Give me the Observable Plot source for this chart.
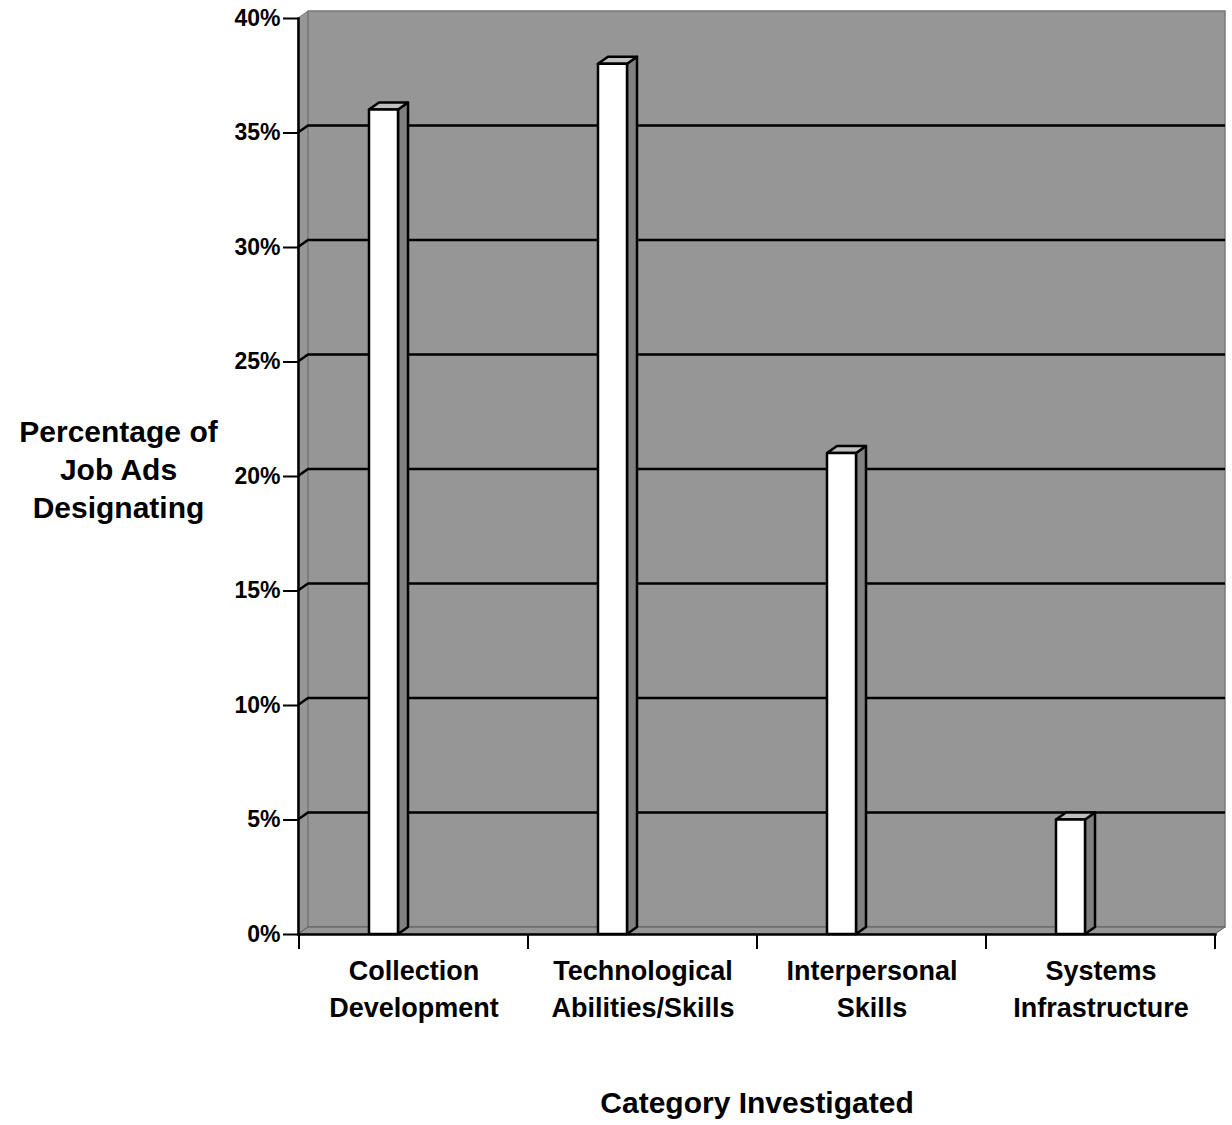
<!DOCTYPE html>
<html>
<head>
<meta charset="utf-8">
<script src="https://cdn.jsdelivr.net/npm/d3@7"></script>
<script src="https://cdn.jsdelivr.net/npm/@observablehq/plot@0.6"></script>
<style>
  html, body { margin: 0; padding: 0; background: #fff; }
  #chart svg { display: block; }
  #chart svg text { font-weight: bold; }
</style>
</head>
<body>
<div id="chart"></div>
<script>
const categories = ["Collection Development", "Technological Abilities/Skills", "Interpersonal Skills", "Systems Infrastructure"];
const categoryLabels = ["Collection\nDevelopment", "Technological\nAbilities/Skills", "Interpersonal\nSkills", "Systems\nInfrastructure"];
const values = [0.36, 0.38, 0.21, 0.05];
const yTicks = [0, 0.05, 0.10, 0.15, 0.20, 0.25, 0.30, 0.35, 0.40];
const yTitle = "Percentage of\nJob Ads\nDesignating";
const xTitle = "Category Investigated";

const data = categories.map((c, i) => ({category: c, value: values[i], label: categoryLabels[i]}));

const DX = 10, DY = -7, BAR_OFF = 70, BAR_W = 29;
const WALL = "#969696", EDGE = "#7a7a7a", SIDE = "#808080", TOP = "#c0c0c0";

function walls(index, scales, values, dims) {
  const {x, y} = scales;
  const g = d3.create("svg:g");
  const L = dims.marginLeft, R = dims.width - dims.marginRight;
  const y0 = y(0), y1 = y(0.4);
  g.append("path").attr("d", `M${L},${y0}L${L},${y1}L${L+DX},${y1+DY}L${L+DX},${y0+DY}Z`)
    .attr("fill", WALL).attr("stroke", EDGE).attr("stroke-width", 1);
  g.append("rect").attr("x", L + DX).attr("y", y1 + DY).attr("width", R - L).attr("height", y0 - y1)
    .attr("fill", WALL).attr("stroke", EDGE).attr("stroke-width", 1.5);
  g.append("path").attr("d", `M${L},${y0}L${L+DX},${y0+DY}L${R+DX},${y0+DY}L${R},${y0}Z`)
    .attr("fill", WALL).attr("stroke", "#5a5a5a").attr("stroke-width", 1);
  for (const t of yTicks) {
    if (t === 0 || t === 0.4) continue;
    const yy = y(t);
    g.append("path").attr("d", `M${L},${yy}L${L+DX},${yy+DY}L${R+DX},${yy+DY}`)
      .attr("fill", "none").attr("stroke", "#000").attr("stroke-width", 2.5);
  }
  return g.node();
}

function bars(index, scales, vals, dims) {
  const {x, y} = scales;
  const g = d3.create("svg:g").attr("stroke", "#000").attr("stroke-width", 2.5).attr("stroke-linejoin", "round");
  const y0 = y(0);
  for (const d of data) {
    const x0 = x(d.category) + BAR_OFF, x1 = x0 + BAR_W, yv = y(d.value);
    g.append("path").attr("d", `M${x1},${yv}L${x1+DX},${yv+DY}L${x1+DX},${y0+DY}L${x1},${y0}Z`).attr("fill", SIDE);
    g.append("path").attr("d", `M${x0},${yv}L${x0+DX},${yv+DY}L${x1+DX},${yv+DY}L${x1},${yv}Z`).attr("fill", TOP);
    g.append("rect").attr("x", x0).attr("y", yv).attr("width", BAR_W).attr("height", y0 - yv).attr("fill", "#fff");
  }
  return g.node();
}

function xTicks(index, scales, vals, dims) {
  const {x, y} = scales;
  const g = d3.create("svg:g").attr("stroke", "#000").attr("stroke-width", 2);
  const y0 = y(0);
  const bw = x(categories[1]) - x(categories[0]);
  const bounds = categories.map(c => x(c)).concat([x(categories[categories.length - 1]) + bw]);
  for (const b of bounds) {
    g.append("line").attr("x1", b).attr("x2", b).attr("y1", y0).attr("y2", y0 + 15);
  }
  return g.node();
}

const chart = Plot.plot({
  width: 1232,
  height: 1125,
  marginLeft: 298,
  marginRight: 17,
  marginTop: 18,
  marginBottom: 191,
  style: {fontFamily: "'Liberation Sans', Arial, sans-serif", color: "#000", background: "#fff"},
  x: {type: "band", domain: categories, padding: 0, axis: null},
  y: {domain: [0, 0.4], axis: null},
  marks: [
    walls,
    bars,
    Plot.frame({anchor: "left", stroke: "#000", strokeWidth: 2.5}),
    Plot.frame({anchor: "bottom", stroke: "#000", strokeWidth: 2.5}),
    xTicks,
    Plot.axisY({ticks: yTicks, tickFormat: d3.format(".0%"), tickSize: 15, tickPadding: 3,
      fontSize: 23, fontWeight: "bold", strokeWidth: 2, label: null}),
    Plot.text(data, {x: "category", text: "label", frameAnchor: "bottom", lineAnchor: "top", dy: 19,
      fontSize: 27, fontWeight: "bold", lineHeight: 1.37}),
    Plot.text([yTitle], {text: d => d, frameAnchor: "left", textAnchor: "middle", dx: -180, dy: -9, lineAnchor: "middle",
      fontSize: 30, fontWeight: "bold", lineHeight: 1.27}),
    Plot.text([xTitle], {text: d => d, frameAnchor: "bottom", dy: 169, lineAnchor: "middle",
      fontSize: 30, fontWeight: "bold"})
  ]
});
document.getElementById("chart").appendChild(chart);
</script>
</body>
</html>
